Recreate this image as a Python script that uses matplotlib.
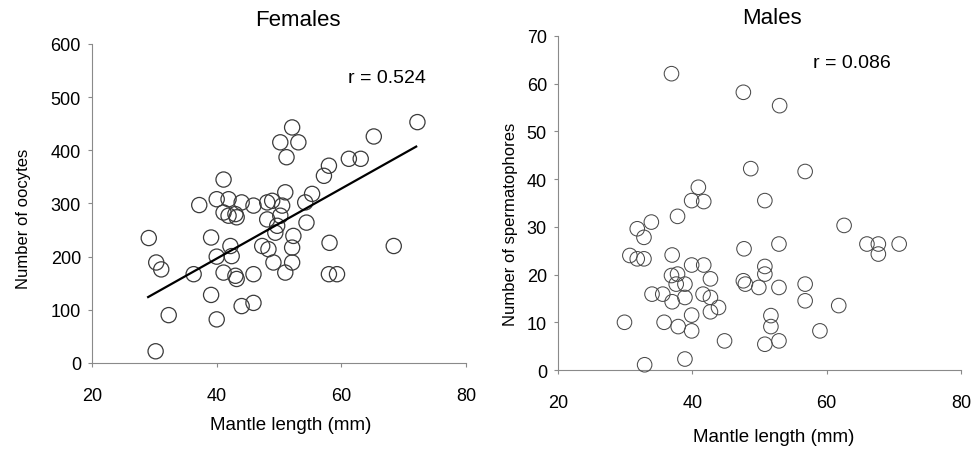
import matplotlib
matplotlib.use("Agg")
import matplotlib.pyplot as plt

plt.rcParams['font.family'] = ['Liberation Sans', 'DejaVu Sans']

# ---------------- data ----------------
fem_length = [29.1, 30.3, 31.1, 32.3, 30.2, 36.3, 37.2, 39.1, 39.1, 40.0,
              40.0, 41.1, 41.1, 41.9, 42.2, 42.4, 41.1, 41.9, 43.0, 43.2,
              44.0, 43.0, 44.0, 45.9, 45.9, 45.9, 48.1, 48.9, 48.1, 47.3,
              48.3, 49.1, 49.4, 50.2, 50.5, 51.0, 50.2, 51.2, 52.1, 53.1,
              52.1, 52.1, 51.0, 52.3, 54.2, 54.4, 55.3, 57.2, 58.0, 61.2,
              63.1, 65.2, 72.2, 58.1, 58.0, 59.3, 68.4, 49.7, 40.0, 43.2]
fem_oocytes = [235, 189, 176, 90, 22, 167, 297, 236, 128, 82,
               308, 345, 283, 308, 220, 201, 170, 277, 280, 274,
               302, 164, 107, 113, 167, 296, 302, 305, 270, 220,
               214, 189, 245, 277, 296, 321, 415, 387, 443, 415,
               217, 189, 170, 239, 302, 264, 318, 352, 371, 384,
               384, 426, 453, 226, 167, 167, 220, 258, 200, 158]

fem_fit_x = [29, 72]
fem_fit_y = [124, 407]

male_length = [36.9, 47.6, 53.0, 48.7, 56.8, 50.8, 40.9, 39.9, 41.7, 37.8,
               33.9, 31.8, 32.8, 30.7, 31.8, 32.8, 37.0, 39.9, 41.7, 36.9,
               37.8, 38.9, 37.6, 42.7, 34.0, 35.6, 37.0, 38.9, 41.6, 42.7,
               42.7, 43.9, 39.9, 29.9, 35.8, 37.9, 39.9, 44.8, 32.9, 38.9,
               47.6, 47.9, 49.9, 52.9, 50.8, 50.8, 51.7, 51.7, 50.8, 52.9,
               47.7, 52.9, 56.8, 56.8, 61.8, 59.0, 62.6, 66.0, 67.7, 67.7,
               70.8]
male_spermatophores = [62.1, 58.2, 55.4, 42.2, 41.6, 35.5, 38.3, 35.5, 35.3, 32.2,
                       31.0, 29.6, 27.8, 24.0, 23.3, 23.3, 24.1, 22.0, 22.0, 19.8,
                       20.1, 18.0, 18.0, 19.1, 15.9, 15.9, 14.3, 15.2, 15.9, 15.2,
                       12.2, 13.1, 11.5, 10.0, 10.0, 9.1, 8.2, 6.1, 1.1, 2.3,
                       18.7, 18.0, 17.3, 17.3, 21.7, 20.1, 11.4, 9.1, 5.4, 6.1,
                       25.4, 26.4, 18.0, 14.5, 13.5, 8.2, 30.3, 26.4, 26.4, 24.3,
                       26.4]

x_ticks = [20, 40, 60, 80]
fem_y_ticks = [0, 100, 200, 300, 400, 500, 600]
male_y_ticks = [0, 10, 20, 30, 40, 50, 60, 70]

titles = ["Females", "Males"]
r_labels = ["r = 0.524", "r = 0.086"]
xlabel = "Mantle length (mm)"
ylabels = ["Number of oocytes", "Number of spermatophores"]

# ---------------- figure ----------------
fig = plt.figure(figsize=(9.75, 4.56), dpi=100)
axL = fig.add_axes([0.0944, 0.2018, 0.3836, 0.6996])
axR = fig.add_axes([0.5723, 0.1864, 0.4133, 0.7325])

spine_col = '#8a8a8a'

def style(ax):
    for s in ['top', 'right']:
        ax.spines[s].set_visible(False)
    for s in ['left', 'bottom']:
        ax.spines[s].set_color(spine_col)
        ax.spines[s].set_linewidth(0.8)
    ax.tick_params(axis='both', colors=spine_col, labelcolor='black',
                   labelsize=13, length=3, width=0.8, direction='out')
    ax.tick_params(axis='x', pad=14)
    ax.tick_params(axis='y', pad=5)
    ax.set_xlim(20, 80)
    ax.set_xticks(x_ticks)
    ax.set_xticklabels([str(t) for t in x_ticks])

# Females
style(axL)
axL.scatter(fem_length, fem_oocytes, s=120, facecolors='none',
            edgecolors='#3a3a3a', linewidths=0.9, clip_on=False, zorder=3)
axL.plot(fem_fit_x, fem_fit_y, color='black', linewidth=1.6, zorder=4)
axL.set_ylim(0, 600)
axL.set_yticks(fem_y_ticks)
axL.set_yticklabels([str(t) for t in fem_y_ticks])
axL.text(0.55, 1.078, titles[0], transform=axL.transAxes, ha='center',
         va='center', fontsize=16)
axL.text(0.684, 0.896, r_labels[0], transform=axL.transAxes, ha='left',
         va='center', fontsize=14)
axL.set_xlabel(xlabel, fontsize=13.5)
axL.xaxis.set_label_coords(0.53, -0.165)
axL.xaxis.label.set_va('top')
axL.set_ylabel(ylabels[0], fontsize=12)
axL.yaxis.set_label_coords(-0.163, 0.456)

# Males
style(axR)
axR.scatter(male_length, male_spermatophores, s=110, facecolors='none',
            edgecolors='#4a4a4a', linewidths=0.75, clip_on=False, zorder=3)
axR.set_ylim(0, 70)
axR.set_yticks(male_y_ticks)
axR.set_yticklabels([str(t) for t in male_y_ticks])
axR.text(0.53, 1.054, titles[1], transform=axR.transAxes, ha='center',
         va='center', fontsize=16)
axR.text(0.633, 0.922, r_labels[1], transform=axR.transAxes, ha='left',
         va='center', fontsize=14)
axR.set_xlabel(xlabel, fontsize=13.5)
axR.xaxis.set_label_coords(0.536, -0.175)
axR.xaxis.label.set_va('top')
axR.set_ylabel(ylabels[1], fontsize=12)
axR.yaxis.set_label_coords(-0.10, 0.438)

fig.savefig("out.png", dpi=100, facecolor='white')
